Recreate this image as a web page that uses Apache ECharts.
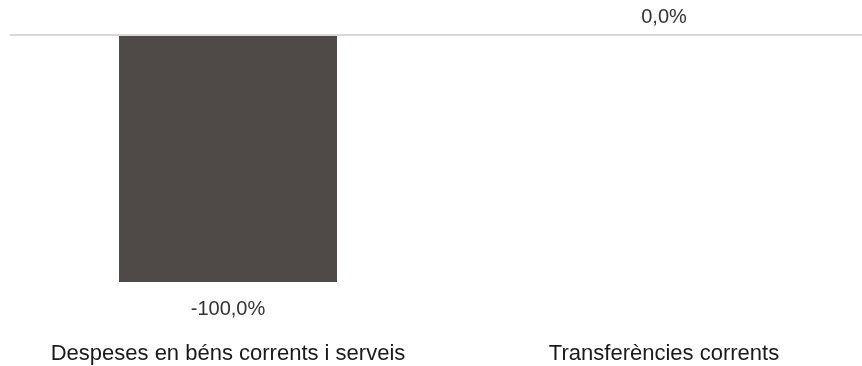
<!DOCTYPE html>
<html>
<head>
<meta charset="utf-8">
<script src="https://cdn.jsdelivr.net/npm/echarts@6/dist/echarts.min.js"></script>
<style>
  html, body { margin: 0; padding: 0; background: #fff; }
  #chart { width: 862px; height: 366px; }
</style>
</head>
<body>
<div id="chart"></div>
<script>
// dades
const categories = ['Despeses en béns corrents i serveis', 'Transferències corrents'];
const values = [-100.0, 0.0];

function fmtPct(v) {
  return v.toFixed(1).replace('.', ',') + '%';
}

const chart = echarts.init(document.getElementById('chart'));
chart.setOption({
  animation: false,
  // el gràfic original queda retallat per la dreta
  grid: { left: 10, width: 872, top: 35, bottom: 84, containLabel: false, outerBoundsMode: 'none' },
  xAxis: {
    type: 'category',
    data: categories,
    axisLine: { show: false, onZero: false },
    axisTick: { show: false },
    axisLabel: {
      margin: 61,
      fontFamily: 'Liberation Sans, Arial, sans-serif',
      fontSize: 22,
      color: '#1a1a1a',
      interval: 0
    }
  },
  yAxis: {
    type: 'value',
    min: -100,
    max: 0,
    show: false
  },
  series: [{
    type: 'bar',
    barWidth: '50%',
    data: values.map(v => ({
      value: v,
      label: { position: v < 0 ? 'bottom' : 'top', distance: v < 0 ? 17 : 8 }
    })),
    itemStyle: { color: '#4f4a48' },
    label: {
      show: true,
      fontFamily: 'Liberation Sans, Arial, sans-serif',
      fontSize: 20,
      color: '#333',
      formatter: p => fmtPct(p.value)
    },
    markLine: {
      silent: true,
      symbol: 'none',
      label: { show: false },
      lineStyle: { color: '#d9d9d9', width: 2, type: 'solid' },
      data: [{ yAxis: 0 }]
    },
    z: 1
  }]
});
</script>
</body>
</html>
